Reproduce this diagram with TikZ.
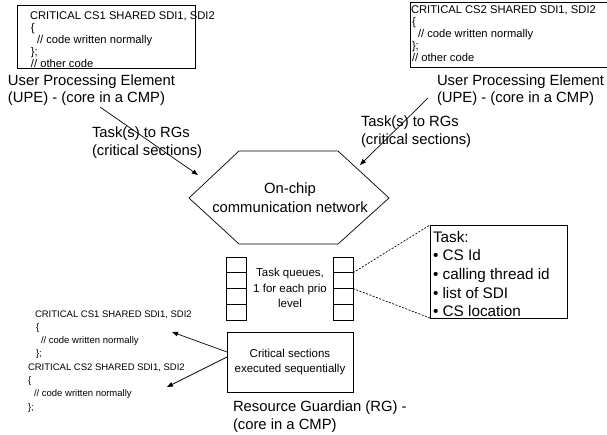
\documentclass[tikz,border=0pt]{standalone}
\usepackage{fontspec}
\setmainfont{Liberation Sans}
\usetikzlibrary{arrows.meta}
\begin{document}
\begin{tikzpicture}[x=1pt,y=-1pt,
  every node/.style={inner sep=0pt, outer sep=0pt},
  ln/.style={line width=0.7pt},
  codetxt/.style={font=\fontsize{11.2}{12}\selectfont, align=left, anchor=north west},
  codetxtb/.style={font=\fontsize{9.5}{13.3}\selectfont, align=left, anchor=north west},
  bigtxt/.style={font=\fontsize{14.8}{17.5}\selectfont, align=left, anchor=north west},
  midtxt/.style={font=\fontsize{11.5}{15.5}\selectfont, align=center},
  arr/.style={ln, -{Triangle[length=6pt,width=4.5pt]}},
  cell/.style={draw, ln, minimum width=20pt, minimum height=15.75pt, anchor=north west},
  sep/.style={line width=1.4pt},
  dashln/.style={ln, dash pattern=on 2pt off 1.5pt}
]
\clip (0,0) rectangle (607,435);

% ---------- user processing element, left ----------
\node[draw, ln, anchor=north west, minimum width=178pt, minimum height=63pt] (codeA) at (17,5) {};
\node[codetxt] (codeAtxt) at (30,11.8) {CRITICAL CS1 SHARED SDI1, SDI2\\
  \hspace*{1pt}\{\\
  \hspace*{7pt}// code written normally\\
  \hspace*{1pt}\};\\
  \hspace*{1pt}// other code};
\node[bigtxt] (upeA) at (8,74.5) {User Processing Element\\(UPE) - (core in a CMP)};

% ---------- user processing element, right ----------
\node[draw, ln, anchor=north west, minimum width=210pt, minimum height=65pt] (codeB) at (410,2) {};
\node[codetxt] (codeBtxt) at (411,5.8) {CRITICAL CS2 SHARED SDI1, SDI2\\
  \hspace*{1pt}\{\\
  \hspace*{7pt}// code written normally\\
  \hspace*{1pt}\};\\
  \hspace*{1pt}// other code};
\node[bigtxt] (upeB) at (437,74.5) {User Processing Element\\(UPE) - (core in a CMP)};

% ---------- task labels ----------
\node[bigtxt] (taskA) at (92,127) {Task(s) to RGs\\(critical sections)};
\node[bigtxt] (taskB) at (361,116) {Task(s) to RGs\\(critical sections)};

% ---------- on-chip network ----------
\coordinate (hL)  at (189,198);
\coordinate (hTL) at (239,151);
\coordinate (hTR) at (338,151);
\coordinate (hR)  at (389,198);
\coordinate (hBR) at (338,244);
\coordinate (hBL) at (239,244);
\draw[ln] (hL) -- (hTL) -- (hTR) -- (hR) -- (hBR) -- (hBL) -- cycle;
\node[font=\fontsize{14.8}{19}\selectfont, align=center] (net) at (290,198) {On-chip\\communication network};

% arrows into the network
\coordinate (aSrc) at (100,107);
\coordinate (aDst) at (198,175);
\coordinate (bSrc) at (428,98);
\coordinate (bDst) at (360,165);
\draw[arr] (aSrc) -- (aDst);
\draw[arr] (bSrc) -- (bDst);

% ---------- task queues ----------
\foreach \i in {0,1,2,3} {
  \node[cell] (qL\i) at (226,257+15.75*\i) {};
  \node[cell] (qR\i) at (333,257+15.75*\i) {};
}
\foreach \i in {0,1,2} {
  \draw[sep] (qL\i.south west) -- (qL\i.south east);
  \draw[sep] (qR\i.south west) -- (qR\i.south east);
}
\node[midtxt] (qtxt) at (290,288) {Task queues,\\1 for each prio\\level};

% ---------- task description ----------
\node[draw, ln, anchor=north west, minimum width=137pt, minimum height=93pt] (task) at (430,225) {};
\node[font=\fontsize{15.3}{18.7}\selectfont, align=left, anchor=north west] (tasktxt) at (433,231)
  {Task:\\\textbullet{} CS Id\\\textbullet{} calling thread id\\\textbullet{} list of SDI\\\textbullet{} CS location};
\draw[dashln] (qR0.south east) -- (task.north west);
\draw[dashln] (qR1.south east) -- (task.south west);

% ---------- resource guardian ----------
\node[draw, ln, anchor=north west, minimum width=126pt, minimum height=60pt] (crit) at (227,332) {};
\node[midtxt] (crittxt) at (290,362) {Critical sections\\executed sequentially};
\node[bigtxt] (rg) at (233,401) {Resource Guardian (RG) -\\(core in a CMP)};

% ---------- code executed by the guardian ----------
\node[codetxtb] (codeC) at (28,310.4) {\hspace*{7pt}CRITICAL CS1 SHARED SDI1, SDI2\\
  \hspace*{8pt}\{\\
  \hspace*{13pt}// code written normally\\
  \hspace*{8pt}\};\\
  CRITICAL CS2 SHARED SDI1, SDI2\\
  \{\\
  \hspace*{6pt}// code written normally\\
  \};};
\coordinate (cSrc) at (227,352);
\coordinate (cDst) at (172,332);
\coordinate (dSrc) at (227,357);
\coordinate (dDst) at (167,387);
\draw[arr] (cSrc) -- (cDst);
\draw[arr] (dSrc) -- (dDst);
\end{tikzpicture}
\end{document}
